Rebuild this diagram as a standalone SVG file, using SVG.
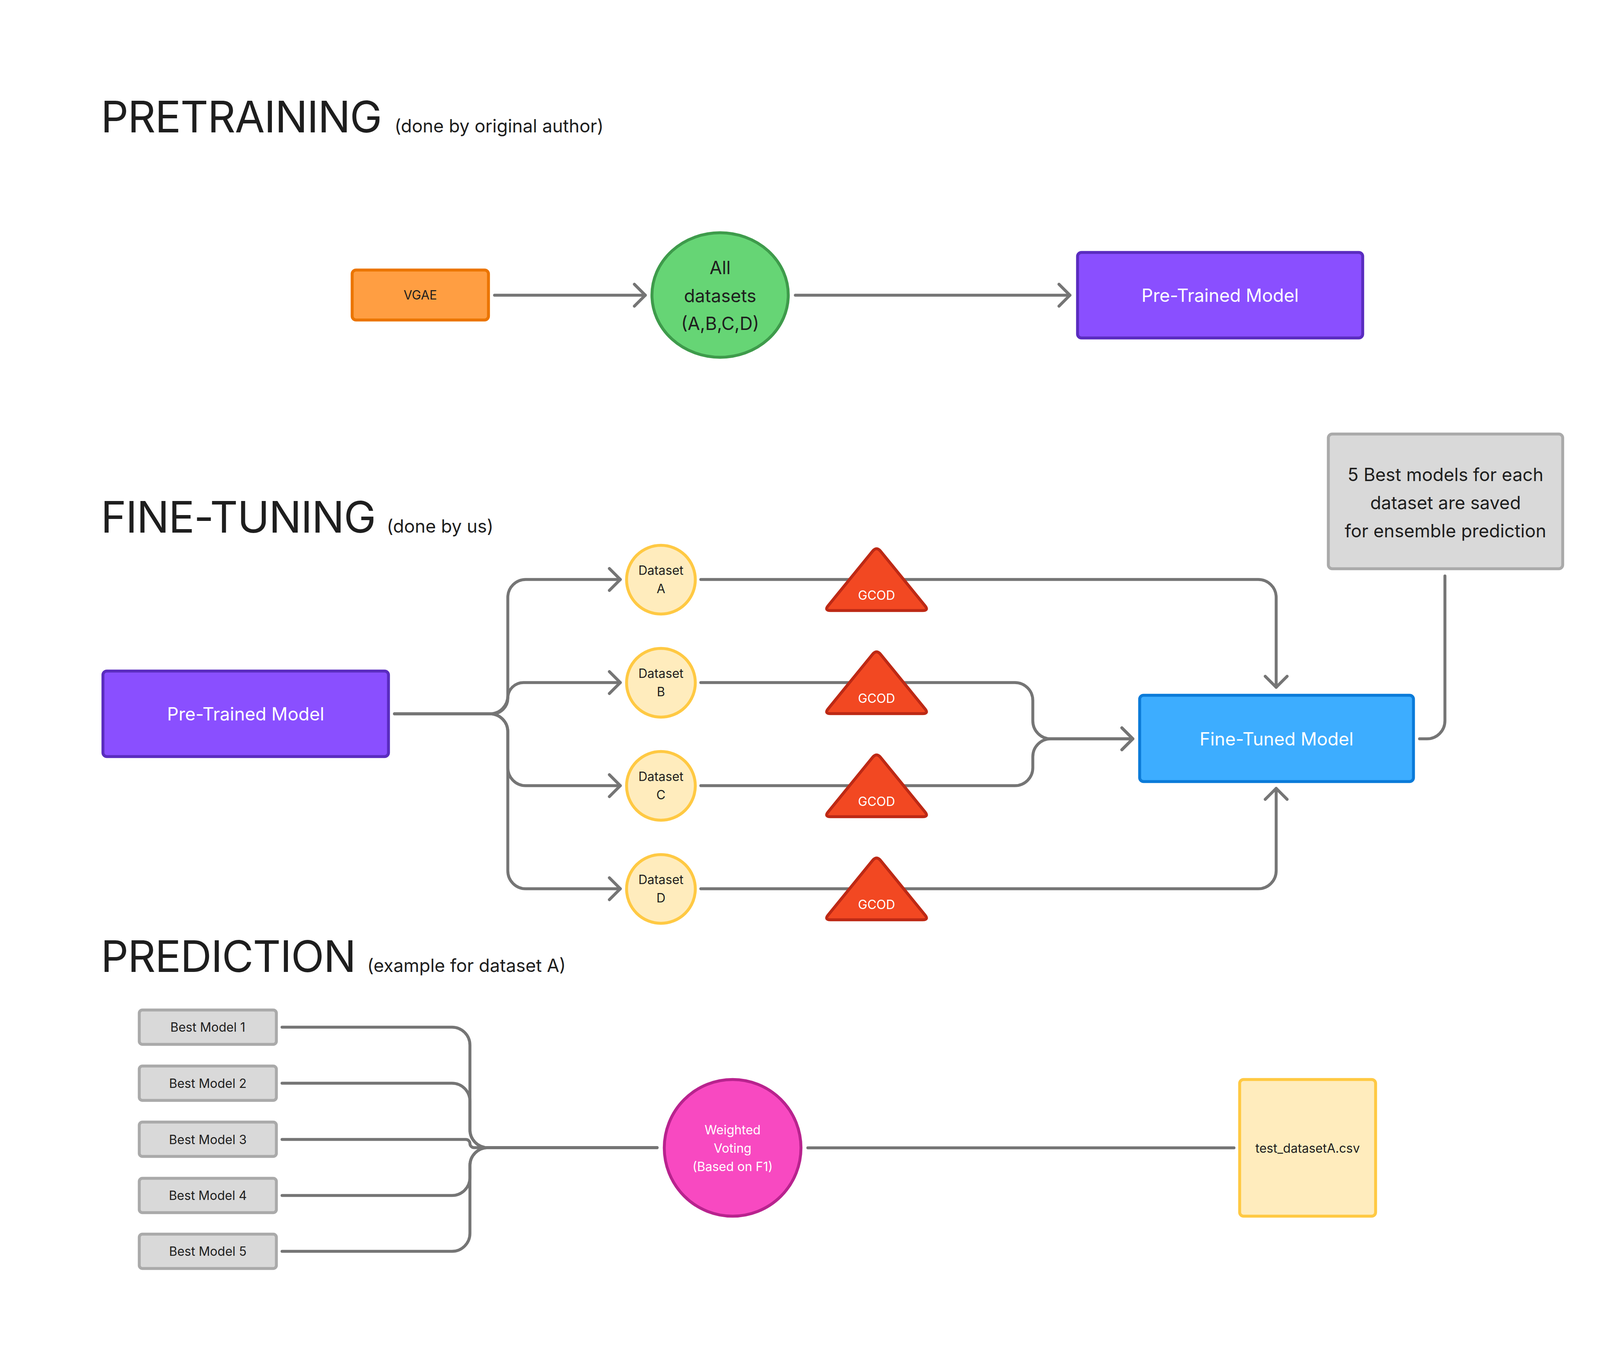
<svg xmlns="http://www.w3.org/2000/svg" width="4264" height="3511" viewBox="0 0 4264 3511">
<defs>
<style>
text{font-family:Inter,"Liberation Sans",sans-serif;}
.title{font-size:111px;fill:#1e1e1e;letter-spacing:-1.8px;}
.sub{font-size:46px;fill:#1e1e1e;}
.md{font-size:46px;text-anchor:middle;}
.sm{font-size:32px;text-anchor:middle;}
.dk{fill:#1e1e1e;}
.wh{fill:#ffffff;}
.conn path{fill:none;stroke:#757575;stroke-width:7.5;stroke-linecap:round;stroke-linejoin:round;}
.arr{marker-end:url(#arrow);}
.n{stroke-width:7.5;}
.purple{fill:#8a4fff;stroke:#5a2cbf;}
.orange{fill:#ff9e42;stroke:#eb7500;}
.green{fill:#66d575;stroke:#3e9b4b;}
.blue{fill:#3dadff;stroke:#0b7bd9;}
.gray{fill:#d9d9d9;stroke:#aaaaaa;}
.yellow{fill:#ffecbd;stroke:#ffc943;}
.red{fill:#f24822;stroke:#bd2915;}
.pink{fill:#f849c1;stroke:#b8238e;}
</style>
<marker id="arrow" markerUnits="userSpaceOnUse" markerWidth="80" markerHeight="80" viewBox="-40 -40 80 80" refX="0" refY="0" orient="auto" overflow="visible">
<path d="M-28,-28 L0,0 L-28,28" fill="none" stroke="#757575" stroke-width="7.5" stroke-linecap="round" stroke-linejoin="round"/>
</marker>
</defs>
<rect x="0" y="0" width="4264" height="3511" fill="#ffffff"/>

<g id="titles">
<text class="title" x="258" y="339">PRETRAINING</text>
<text class="sub" x="1010" y="339">(done by original author)</text>
<text class="title" x="258" y="1364">FINE-TUNING</text>
<text class="sub" x="990" y="1364">(done by us)</text>
<text class="title" x="258" y="2489">PREDICTION</text>
<text class="sub" x="940" y="2489">(example for dataset A)</text>
</g>

<g id="connectors" class="conn">
<path class="arr" d="M1266 756 H1652"/>
<path class="arr" d="M2036 756 H2739"/>
<path class="arr" d="M1010 1828 H1254 A46 46 0 0 0 1300 1782 V1530 A46 46 0 0 1 1346 1484 H1588"/>
<path class="arr" d="M1010 1828 H1260 A40 40 0 0 0 1300 1788 A40 40 0 0 1 1340 1748 H1588"/>
<path class="arr" d="M1010 1828 H1254 A46 46 0 0 1 1300 1874 V1966 A46 46 0 0 0 1346 2012 H1588"/>
<path class="arr" d="M1010 1828 H1254 A46 46 0 0 1 1300 1874 V2230 A46 46 0 0 0 1346 2276 H1588"/>
<path class="arr" d="M1794 1484 H3221 A46 46 0 0 1 3267 1530 V1760"/>
<path class="arr" d="M1794 1748 H2598 A46 46 0 0 1 2644 1794 V1846 A46 46 0 0 0 2690 1892 H2900"/>
<path class="arr" d="M1794 2012 H2598 A46 46 0 0 0 2644 1966 V1938 A46 46 0 0 1 2690 1892 H2900"/>
<path class="arr" d="M1794 2276 H3221 A46 46 0 0 0 3267 2230 V2019"/>
<path d="M3634 1892 H3653 A46 46 0 0 0 3699 1846 V1475"/>
<path d="M722 2630.5 H1157 A46 46 0 0 1 1203 2676.5 V2893 A46 46 0 0 0 1249 2939 H1682"/>
<path d="M722 2774 H1157 A46 46 0 0 1 1203 2820 V2893 A46 46 0 0 0 1249 2939 H1682"/>
<path d="M722 2918 H1192.5 A10.5 10.5 0 0 1 1203 2928.5 A10.5 10.5 0 0 0 1213.5 2939 H1682"/>
<path d="M722 3061.5 H1157 A46 46 0 0 0 1203 3015.5 V2985 A46 46 0 0 1 1249 2939 H1682"/>
<path d="M722 3204.5 H1157 A46 46 0 0 0 1203 3158.5 V2985 A46 46 0 0 1 1249 2939 H1682"/>
<path d="M2068 2939.5 H3159"/>
</g>

<g id="vgae">
<rect class="n orange" x="901.5" y="691.5" width="349" height="128" rx="10"/>
<text class="sm dk" x="1076" y="767">VGAE</text>
</g>
<g id="all-datasets">
<ellipse class="n green" cx="1843.5" cy="755.5" rx="174.5" ry="159.5"/>
<text class="md dk" x="1843.5" y="701.5">All</text>
<text class="md dk" x="1843.5" y="773.5">datasets</text>
<text class="md dk" x="1843.5" y="844.5">(A,B,C,D)</text>
</g>
<g id="pretrained-top">
<rect class="n purple" x="2758.5" y="646.5" width="730" height="219" rx="10"/>
<text class="md wh" x="3123.5" y="772.5">Pre-Trained Model</text>
</g>

<g id="pretrained-ft">
<rect class="n purple" x="263.5" y="1718.5" width="731" height="219" rx="10"/>
<text class="md wh" x="629" y="1844.5">Pre-Trained Model</text>
</g>
<g id="dataset-a">
<circle class="n yellow" cx="1692" cy="1484.5" r="88"/>
<text class="sm dk" x="1692" y="1472">Dataset</text>
<text class="sm dk" x="1692" y="1519">A</text>
</g>
<g id="dataset-b">
<circle class="n yellow" cx="1692" cy="1748.5" r="88"/>
<text class="sm dk" x="1692" y="1736">Dataset</text>
<text class="sm dk" x="1692" y="1783">B</text>
</g>
<g id="dataset-c">
<circle class="n yellow" cx="1692" cy="2012.5" r="88"/>
<text class="sm dk" x="1692" y="2000">Dataset</text>
<text class="sm dk" x="1692" y="2047">C</text>
</g>
<g id="dataset-d">
<circle class="n yellow" cx="1692" cy="2276.5" r="88"/>
<text class="sm dk" x="1692" y="2264">Dataset</text>
<text class="sm dk" x="1692" y="2311">D</text>
</g>
<g id="gcod-a">
<path class="n red" d="M2233.9 1411.4 Q2244 1399 2254.1 1411.4 L2367.9 1551.1 Q2378 1563.5 2362 1563.5 L2126 1563.5 Q2110 1563.5 2120.1 1551.1 Z"/>
<text class="sm wh" x="2244" y="1535.5">GCOD</text>
</g>
<g id="gcod-b">
<path class="n red" d="M2233.9 1675.4 Q2244 1663 2254.1 1675.4 L2367.9 1815.1 Q2378 1827.5 2362 1827.5 L2126 1827.5 Q2110 1827.5 2120.1 1815.1 Z"/>
<text class="sm wh" x="2244" y="1799.5">GCOD</text>
</g>
<g id="gcod-c">
<path class="n red" d="M2233.9 1939.4 Q2244 1927 2254.1 1939.4 L2367.9 2079.1 Q2378 2091.5 2362 2091.5 L2126 2091.5 Q2110 2091.5 2120.1 2079.1 Z"/>
<text class="sm wh" x="2244" y="2063.5">GCOD</text>
</g>
<g id="gcod-d">
<path class="n red" d="M2233.9 2203.4 Q2244 2191 2254.1 2203.4 L2367.9 2343.1 Q2378 2355.5 2362 2355.5 L2126 2355.5 Q2110 2355.5 2120.1 2343.1 Z"/>
<text class="sm wh" x="2244" y="2327.5">GCOD</text>
</g>
<g id="fine-tuned">
<rect class="n blue" x="2917.5" y="1780.5" width="701" height="221" rx="10"/>
<text class="md wh" x="3268" y="1908.5">Fine-Tuned Model</text>
</g>
<g id="best-models-note">
<rect class="n gray" x="3400.5" y="1111.5" width="600" height="345" rx="10"/>
<text class="md dk" x="3700.5" y="1232">5 Best models for each</text>
<text class="md dk" x="3700.5" y="1304">dataset are saved</text>
<text class="md dk" x="3700.5" y="1376">for ensemble prediction</text>
</g>

<g id="best-model-1">
<rect class="n gray" x="356.5" y="2586.5" width="351" height="88" rx="8"/>
<text class="sm dk" x="532" y="2642">Best Model 1</text>
</g>
<g id="best-model-2">
<rect class="n gray" x="356.5" y="2730" width="351" height="88" rx="8"/>
<text class="sm dk" x="532" y="2785.5">Best Model 2</text>
</g>
<g id="best-model-3">
<rect class="n gray" x="356.5" y="2873.5" width="351" height="88" rx="8"/>
<text class="sm dk" x="532" y="2929.5">Best Model 3</text>
</g>
<g id="best-model-4">
<rect class="n gray" x="356.5" y="3017.5" width="351" height="88" rx="8"/>
<text class="sm dk" x="532" y="3073">Best Model 4</text>
</g>
<g id="best-model-5">
<rect class="n gray" x="356.5" y="3160.5" width="351" height="88" rx="8"/>
<text class="sm dk" x="532" y="3216">Best Model 5</text>
</g>
<g id="weighted-voting">
<circle class="n pink" cx="1875.5" cy="2939.5" r="175"/>
<text class="sm wh" x="1875.5" y="2904.5">Weighted</text>
<text class="sm wh" x="1875.5" y="2951.5">Voting</text>
<text class="sm wh" x="1875.5" y="2998.5">(Based on F1)</text>
</g>
<g id="test-dataset">
<rect class="n yellow" x="3173.5" y="2764.5" width="348" height="350" rx="10"/>
<text class="sm dk" x="3347.5" y="2951.5">test_datasetA.csv</text>
</g>
</svg>
